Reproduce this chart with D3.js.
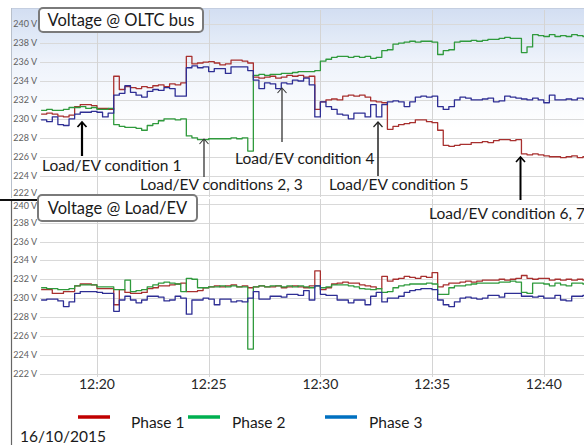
<!DOCTYPE html>
<html><head><meta charset="utf-8">
<script src="https://cdn.jsdelivr.net/npm/d3@7"></script>
<style>
body{margin:0;background:#fff}
svg{display:block}
text{font-family:Lato,"Open Sans",sans-serif}
</style></head>
<body><svg id="chart" width="584" height="445"></svg>
<script>
// ---------- DATA ----------
const dateLabel = "16/10/2015";
const sampleStart = [12, 17, 30];   // first sample time (h, m, s)
const sampleStepSec = 15;            // sampling interval
const viewStart = [12, 17, 27];
const viewEnd = [12, 41, 48];
const seriesNames = ["Phase 1", "Phase 2", "Phase 3"];
const yTickValues = [222, 224, 226, 228, 230, 232, 234, 236, 238, 240];
const panelTitles = ["Voltage @ OLTC bus", "Voltage @ Load/EV"];

const oltcPhase1 = [230.5,230.6,230.5,230.3,230.2,230.4,231.3,231.5,231.5,231.4,
 231.1,231.1,231.0,234.5,233.1,233.4,233.3,233.2,233.4,233.3,
 233.5,233.6,233.4,233.7,233.6,233.8,236.6,235.8,235.9,236.0,
 236.05,235.9,235.7,235.8,236.2,236.2,236.1,235.9,234.4,234.3,
 234.4,234.5,234.3,234.4,234.6,234.5,234.6,234.4,234.5,231.0,
 231.8,232.0,232.1,232.0,232.4,232.5,232.4,232.5,232.3,231.9,
 231.8,231.7,228.9,229.2,229.4,229.5,229.6,229.9,229.9,229.7,
 229.6,228.8,227.2,227.1,227.2,227.3,227.3,227.5,227.5,227.6,
 227.5,227.7,227.8,227.8,227.7,227.8,226.3,226.2,226.3,226.2,
 226.1,226.0,226.0,225.9,226.0,226.1,225.9,226.0,226.0];
const oltcPhase2 = [230.9,231.0,230.9,230.9,231.0,231.2,231.2,231.3,231.1,231.2,
 231.0,231.0,231.1,229.4,229.2,229.1,229.1,229.0,228.8,229.3,
 229.5,229.8,230.0,230.0,229.9,230.0,228.2,228.0,227.8,227.8,
 227.9,227.9,227.9,227.9,228.0,227.9,228.0,226.6,234.6,234.7,
 234.6,234.7,234.7,234.8,234.8,234.9,235.0,235.0,235.0,235.1,
 236.1,236.3,236.5,236.6,236.6,236.5,236.6,236.5,236.6,236.4,
 236.5,237.2,237.3,237.9,238.0,238.1,238.2,238.1,238.2,238.2,
 238.1,236.8,237.2,237.3,238.1,238.2,238.2,238.3,238.2,238.3,
 238.4,238.4,238.5,238.6,238.5,238.5,237.0,237.6,238.9,238.8,
 238.7,238.9,238.7,238.8,238.7,238.9,238.8,238.7,238.7];
const oltcPhase3 = [229.9,229.7,230.2,229.4,229.3,230.0,230.5,230.7,230.7,230.8,
 230.7,230.2,230.6,232.5,232.7,233.5,232.8,232.5,232.3,232.9,
 233.1,233.0,233.3,233.2,232.4,232.4,235.4,235.6,235.4,235.5,
 235.0,235.3,235.3,234.8,235.5,235.5,235.5,235.1,234.1,233.2,
 233.8,233.7,233.2,233.8,233.7,234.1,234.0,234.3,233.6,230.2,
 231.8,231.3,231.0,230.5,230.4,230.0,230.6,230.6,230.2,231.5,
 230.2,231.5,231.8,231.9,231.8,231.3,231.8,232.3,232.4,232.3,
 232.4,231.3,231.0,231.3,232.0,232.3,232.2,232.0,232.0,232.1,
 232.2,231.8,231.9,232.4,232.3,232.2,232.1,232.0,232.2,232.0,
 231.7,232.5,232.0,232.0,232.1,232.0,232.2,232.1,232.1];

const loadPhase1 = [230.9,230.9,230.5,230.5,230.7,230.7,231.3,231.5,231.5,231.4,
 231.0,231.0,231.0,229.3,230.9,230.6,230.5,230.5,230.6,231.0,
 231.1,231.3,231.3,231.4,231.5,231.6,230.7,230.7,230.8,231.1,
 231.2,231.3,231.2,231.3,231.4,231.2,231.3,231.1,231.2,231.3,
 231.2,231.2,231.3,231.1,231.2,231.3,231.2,231.1,231.3,232.9,
 230.9,231.1,231.5,231.6,231.7,231.6,231.6,231.4,231.3,231.2,
 231.0,232.3,231.8,232.0,232.1,232.3,232.2,232.1,232.3,232.2,
 232.7,231.2,231.4,231.6,231.6,231.7,231.8,231.7,231.8,231.9,
 231.9,231.9,232.0,231.9,232.0,232.1,232.4,232.1,232.0,232.1,
 232.1,231.9,232.0,231.9,232.0,231.9,232.0,231.9,232.0];
const loadPhase2 = [231.1,231.0,231.0,230.9,230.9,231.0,231.3,231.4,231.4,231.4,
 231.2,231.2,231.2,230.9,230.9,231.9,230.7,230.8,230.9,231.2,
 231.4,231.6,231.7,231.6,231.5,230.7,232.1,232.0,231.1,231.1,
 231.2,231.2,231.3,231.2,231.3,231.2,231.2,224.6,231.2,231.3,
 231.2,231.3,231.3,231.2,231.3,231.2,231.3,231.2,231.1,231.3,
 231.1,231.2,231.4,231.4,231.4,231.3,231.2,231.0,230.95,230.9,
 231.0,230.6,230.7,231.1,231.3,231.4,231.5,231.5,231.5,231.6,
 231.5,230.4,230.4,231.1,231.3,231.3,231.4,231.5,231.6,231.6,
 231.6,231.6,231.7,231.7,231.8,231.7,230.6,230.5,231.6,231.6,
 231.5,231.3,231.6,231.4,231.3,231.6,231.6,231.5,231.6];
const loadPhase3 = [229.8,229.9,229.9,229.7,229.1,229.6,230.5,230.7,230.7,230.7,
 230.6,230.5,230.5,228.6,229.8,230.2,229.8,229.5,229.8,230.2,
 230.2,230.1,229.7,229.8,230.2,230.0,228.3,229.8,229.8,230.0,
 229.9,229.3,229.9,229.9,229.6,229.7,229.6,230.0,230.7,229.9,
 229.9,230.2,230.2,230.1,230.4,230.4,230.3,230.8,229.8,231.3,
 230.4,230.3,230.3,229.8,229.8,229.5,229.8,229.8,229.3,230.2,
 230.6,229.6,230.0,230.0,230.2,230.6,230.8,230.9,231.0,231.0,
 230.9,229.8,229.3,229.1,229.6,230.0,230.1,230.0,229.9,230.0,
 230.3,230.3,230.1,230.5,230.5,230.5,230.2,230.2,230.1,230.2,
 230.0,230.0,230.3,229.8,229.7,230.2,230.2,230.3,230.3];

const annotationLabels = ["Load/EV condition 1", "Load/EV conditions 2, 3",
  "Load/EV condition 4", "Load/EV condition 5", "Load/EV condition 6, 7"];

// ---------- LAYOUT ----------
const lineColors = ["#a8302f", "#2f9a3c", "#2e2e94"];
const legendColors = ["#c00000", "#00b050", "#0070c0"];
const svg = d3.select("#chart");
const mk = a => new Date(2015, 9, 16, a[0], a[1], a[2]);
const t0 = mk(sampleStart);
const times = oltcPhase1.map((_, i) => new Date(+t0 + i * sampleStepSec * 1000));

const x = d3.scaleTime().domain([mk(viewStart), mk(viewEnd)]).range([40, 584]);
const yTop = d3.scaleLinear().domain([222, 240]).range([194.6, 24.2]);
const yBot = d3.scaleLinear().domain([222, 240]).range([373.6, 203.8]);

// defs
const defs = svg.append("defs");
const grad = defs.append("linearGradient").attr("id", "bg").attr("x1", 0).attr("x2", 0).attr("y1", 0).attr("y2", 1);
grad.append("stop").attr("offset", "0%").attr("stop-color", "#d2def2");
grad.append("stop").attr("offset", "45%").attr("stop-color", "#eef3fb");
grad.append("stop").attr("offset", "100%").attr("stop-color", "#ffffff");
defs.append("clipPath").attr("id", "clipTop").append("rect").attr("x", 40).attr("y", 10).attr("width", 544).attr("height", 188);
defs.append("clipPath").attr("id", "clipBot").append("rect").attr("x", 40).attr("y", 200).attr("width", 544).attr("height", 180);

svg.append("rect").attr("width", 584).attr("height", 445).attr("fill", "#fff");
// top panel background
svg.append("rect").attr("x", 12).attr("y", 8).attr("width", 580).attr("height", 120).attr("fill", "url(#bg)");
svg.append("line").attr("x1", 12).attr("x2", 584).attr("y1", 8.5).attr("y2", 8.5).attr("stroke", "#c4cee0");
svg.append("line").attr("x1", 11.5).attr("x2", 11.5).attr("y1", 8).attr("y2", 198).attr("stroke", "#b8c0cc");
// bottom panel border
svg.append("line").attr("x1", 11.5).attr("x2", 11.5).attr("y1", 199).attr("y2", 445).attr("stroke", "#666").attr("stroke-width", 1.2);
svg.append("line").attr("x1", 0).attr("x2", 38).attr("y1", 200).attr("y2", 200).attr("stroke", "#111").attr("stroke-width", 2);

const xTicks = x.ticks(d3.timeMinute.every(5));
function panel(y, vTop, vBot, series, clip, labelNudge) {
  const g = svg.append("g");
  g.selectAll(".hg").data(yTickValues).join("line")
    .attr("x1", 40).attr("x2", 584).attr("y1", d => Math.round(y(d)) + 0.5).attr("y2", d => Math.round(y(d)) + 0.5)
    .attr("stroke", "#d9d9d9");
  g.selectAll(".vg").data(xTicks).join("line")
    .attr("x1", d => Math.round(x(d)) + 0.5).attr("x2", d => Math.round(x(d)) + 0.5)
    .attr("y1", vTop).attr("y2", vBot).attr("stroke", "#d4d4d4");
  g.selectAll(".yl").data(yTickValues).join("text")
    .attr("x", 37).attr("y", d => y(d) + 3 + labelNudge(d)).attr("text-anchor", "end")
    .attr("font-size", 9).attr("fill", "#606060").text(d => d + " V");
  const line = d3.line().x((d, i) => x(times[i])).y(d => y(d)).curve(d3.curveStepAfter);
  const lg = g.append("g").attr("clip-path", `url(#${clip})`);
  series.forEach((s, k) => {
    lg.append("path").attr("d", line(s)).attr("fill", "none")
      .attr("stroke", lineColors[k]).attr("stroke-width", 1.3).attr("stroke-linejoin", "round");
  });
}
panel(yTop, 10, 197, [oltcPhase1, oltcPhase2, oltcPhase3], "clipTop", d => d === 222 ? -1.5 : 0);
panel(yBot, 199, 377, [loadPhase1, loadPhase2, loadPhase3], "clipBot", d => d === 240 ? 2 : 0);

// x axis labels
svg.selectAll(".xl").data(xTicks).join("text")
  .attr("x", d => x(d)).attr("y", 389).attr("text-anchor", "middle")
  .attr("font-size", 14).attr("fill", "#262626").text(d3.timeFormat("%H:%M"));

// title boxes
const titleBoxes = [{x: 39, y: 8, w: 164, h: 24}, {x: 38, y: 195, w: 159, h: 26}];
panelTitles.forEach((t, i) => {
  const b = titleBoxes[i];
  svg.append("rect").attr("x", b.x).attr("y", b.y).attr("width", b.w).attr("height", b.h)
    .attr("rx", 4).attr("fill", "#fff").attr("stroke", "#7a7a7a").attr("stroke-width", 2);
  svg.append("text").attr("x", b.x + b.w / 2).attr("y", b.y + b.h / 2 + 5.5).attr("text-anchor", "middle")
    .attr("font-size", 16.5).attr("fill", "#1a1a1a").text(t);
});

// annotations
const annLayout = [
  {tx: 42, ty: 171, ax: 82, tip: 122, base: 156, w: 2.2, c: "#000"},
  {tx: 140, ty: 190, ax: 204, tip: 139, base: 177, w: 1.3, c: "#333"},
  {tx: 235, ty: 164, ax: 282, tip: 88, base: 142, w: 1.3, c: "#333"},
  {tx: 329, ty: 190, ax: 378, tip: 122, base: 176, w: 1.5, c: "#222"},
  {tx: 429, ty: 219, ax: 520.5, tip: 157, base: 200, w: 2, c: "#000"}
];
annotationLabels.forEach((t, i) => {
  const a = annLayout[i];
  svg.append("line").attr("x1", a.ax).attr("x2", a.ax).attr("y1", a.tip + 1).attr("y2", a.base)
    .attr("stroke", a.c).attr("stroke-width", a.w);
  svg.append("path").attr("d", `M${a.ax - 4.5},${a.tip + 5} L${a.ax},${a.tip} L${a.ax + 4.5},${a.tip + 5}`)
    .attr("fill", "none").attr("stroke", a.c).attr("stroke-width", a.w * 0.8);
  svg.append("text").attr("x", a.tx).attr("y", a.ty).attr("font-size", 15.5).attr("fill", "#1a1a1a").text(t);
});

// legend
const legendPos = [{lx: 78, tx: 131}, {lx: 188, tx: 232}, {lx: 325, tx: 369}];
seriesNames.forEach((n, k) => {
  const p = legendPos[k];
  svg.append("line").attr("x1", p.lx).attr("x2", p.lx + 32).attr("y1", 417).attr("y2", 417)
    .attr("stroke", legendColors[k]).attr("stroke-width", 3.5);
  svg.append("text").attr("x", p.tx).attr("y", 428).attr("font-size", 15.5).attr("fill", "#1a1a1a").text(n);
});
svg.append("text").attr("x", 20).attr("y", 442).attr("font-size", 15.5).attr("fill", "#1a1a1a").text(dateLabel);
</script></body></html>
